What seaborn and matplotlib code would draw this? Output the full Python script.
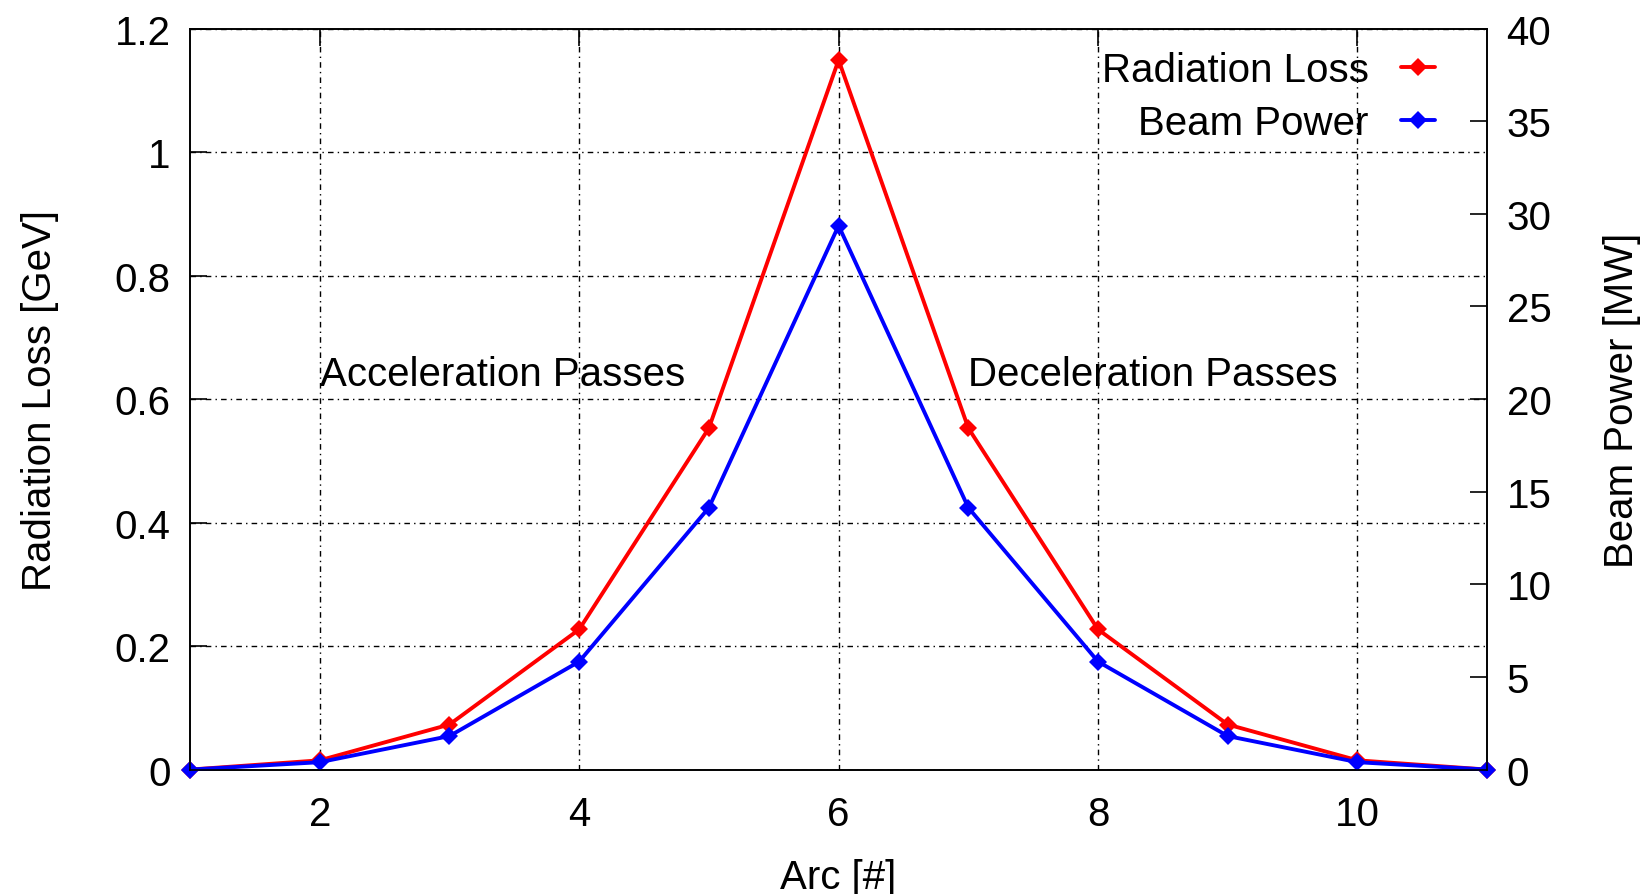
import pandas as pd
import matplotlib.pyplot as plt
import seaborn as sns

arcs = [1, 2, 3, 4, 5, 6, 7, 8, 9, 10, 11]
rad_loss = [0.0, 0.015, 0.073, 0.227, 0.553, 1.149, 0.553, 0.227, 0.073, 0.015, 0.0]
beam_power = [0.0, 0.4, 1.81, 5.83, 14.14, 29.36, 14.14, 5.83, 1.81, 0.4, 0.0]

sns.set_style("white")
plt.rcParams['font.family'] = ['Liberation Sans', 'DejaVu Sans']
plt.rcParams['text.color'] = 'black'
plt.rcParams['axes.labelcolor'] = 'black'
plt.rcParams['xtick.color'] = 'black'
plt.rcParams['ytick.color'] = 'black'
fs = 29

df = pd.DataFrame({'arc': arcs, 'loss': rad_loss, 'power': beam_power})

fig = plt.figure(figsize=(16.44, 8.95), dpi=100)
ax = fig.add_axes([0.1156, 0.139, 0.789, 0.828])
ax2 = ax.twinx()

sns.lineplot(data=df, x='arc', y='loss', ax=ax, color='red', marker='D',
             markersize=9, linewidth=2.8, markeredgewidth=0, label='Radiation Loss',
             legend=False, clip_on=False)
sns.lineplot(data=df, x='arc', y='power', ax=ax2, color='blue', marker='D',
             markersize=9, linewidth=2.8, markeredgewidth=0, label='Beam Power',
             legend=False, clip_on=False)

ax.set_xlim(1, 11)
ax.set_ylim(0, 1.2)
ax2.set_ylim(0, 40)
ax.set_xticks([2, 4, 6, 8, 10])
ax.set_yticks([0, 0.2, 0.4, 0.6, 0.8, 1, 1.2])
ax.set_yticklabels(['0', '0.2', '0.4', '0.6', '0.8', '1', '1.2'])
ax2.set_yticks(range(0, 45, 5))

ax.grid(True, color='black', linestyle=(0, (4, 3, 1, 3)), linewidth=1)
for a in (ax, ax2):
    for s in a.spines.values():
        s.set_color('black')
        s.set_linewidth(1.2)
ax.tick_params(direction='in', length=12, width=1.2, top=True, labelsize=fs, pad=14)
ax.tick_params(axis='x', pad=18)
ax2.tick_params(direction='in', length=12, width=1.2, labelsize=fs, pad=14)

ax.set_xlabel('Arc [#]', fontsize=fs, labelpad=18)
ax.set_ylabel('Radiation Loss [GeV]', fontsize=fs, labelpad=40)
ax2.set_ylabel('Beam Power [MW]', fontsize=fs, labelpad=37)

ax.text(2.0, 0.64, 'Acceleration Passes', fontsize=fs, va='center', ha='left')
ax.text(7.0, 0.64, 'Deceleration Passes', fontsize=fs, va='center', ha='left')

h1, l1 = ax.get_legend_handles_labels()
h2, l2 = ax2.get_legend_handles_labels()
leg = ax2.legend(h1 + h2, l1 + l2, loc='upper right', bbox_to_anchor=(0.977, 1.0),
                 frameon=False, markerfirst=False,
                 fontsize=fs, handlelength=0.85, handletextpad=0.8,
                 borderaxespad=0.15, labelspacing=0.38)

ax2.set_zorder(ax.get_zorder() + 1)
plt.savefig('out.png', dpi=100)
